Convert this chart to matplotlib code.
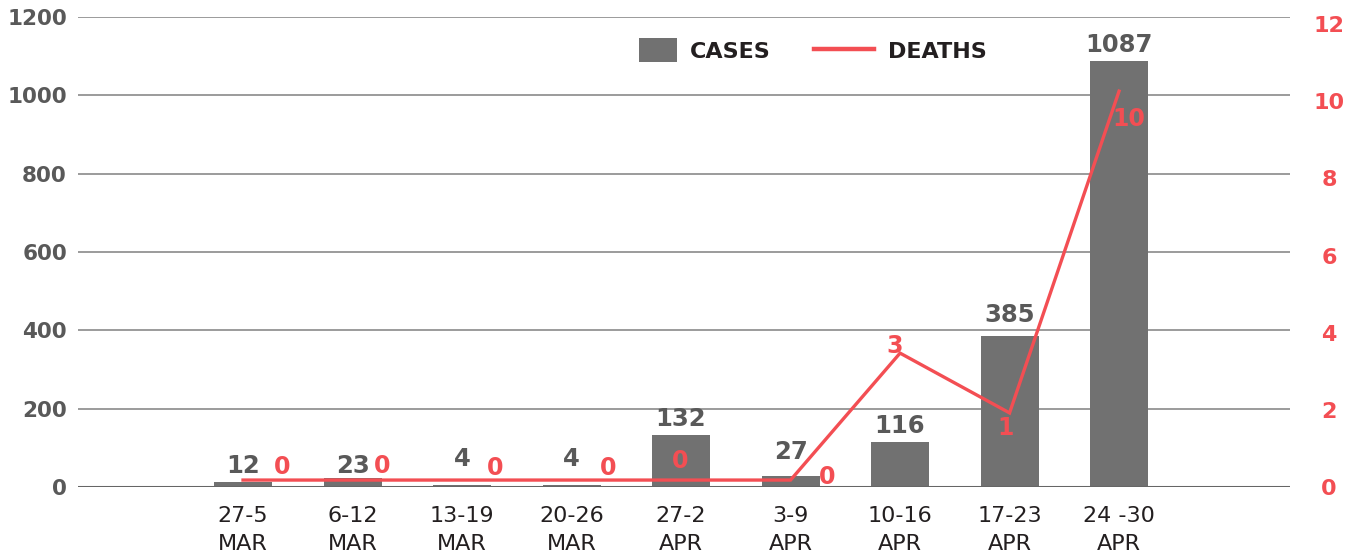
import matplotlib
matplotlib.use("Agg")
import matplotlib.pyplot as plt
from matplotlib.patches import Rectangle
from matplotlib.lines import Line2D
from matplotlib.legend_handler import HandlerPatch

# ---------------- data ----------------
categories = ["27-5\nMAR", "6-12\nMAR", "13-19\nMAR", "20-26\nMAR", "27-2\nAPR",
              "3-9\nAPR", "10-16\nAPR", "17-23\nAPR", "24 -30\nAPR"]
cases = [12, 23, 4, 4, 132, 27, 116, 385, 1087]
deaths = [0, 0, 0, 0, 0, 0, 3, 1, 10]               # labels
deaths_line = [0.18, 0.18, 0.18, 0.18, 0.18, 0.18, 3.47, 1.92, 10.26]  # line as drawn
left_ticks = [0, 200, 400, 600, 800, 1000, 1200]
right_ticks = [0, 2, 4, 6, 8, 10, 12]

# label offsets (pixels) - styling only
case_lbl_dy = [16, 12, 26, 26, 16, 24, 16, 21, 16]
death_lbl_off = [(39, 13), (30, 14), (33, 12), (37, 12), (-1, 19), (37, 3),
                 (-5, 7), (-4, -15), (10, -28)]

GRAY = "#717171"
LBL = "#595959"
RED = "#F34E53"
DARK = "#231F20"
FONT = "DejaVu Sans"

W, H = 1353, 557
fig = plt.figure(figsize=(W / 100, H / 100), dpi=100)
ax = fig.add_axes([78 / W, (H - 487) / H, 1212 / W, 470 / H])
ax2 = ax.twinx()

x = list(range(len(categories)))
ax.bar(x, cases, width=0.53, color=GRAY, zorder=3)
ax.set_ylim(0, 1200)
ax.set_xlim(-1.507, 9.561)
ax.set_yticks(left_ticks)
ax.set_yticklabels([str(t) for t in left_ticks], fontsize=15.5, fontweight="bold",
                   color=LBL, family=FONT)
ax.tick_params(axis="y", length=0, pad=8)
ax.set_xticks(x)
ax.set_xticklabels(categories, fontsize=16, color=DARK, family=FONT, linespacing=1.45)
ax.tick_params(axis="x", length=0, pad=14)
for t in left_ticks[1:]:
    ax.axhline(t, color="#808080", lw=1.1, zorder=1)
ax.axhline(0, color="#666666", lw=2.2, zorder=4)
for s in ax.spines.values():
    s.set_visible(False)
for s in ax2.spines.values():
    s.set_visible(False)

for xi, v, dy in zip(x, cases, case_lbl_dy):
    ax.annotate(str(v), (xi, v), xytext=(0, dy), textcoords="offset pixels",
                ha="center", va="center", fontsize=17.5, fontweight="bold",
                color=LBL, family=FONT, zorder=6)

ax2.plot(x, deaths_line, color=RED, lw=2.4, zorder=5, solid_joinstyle="miter")
ax2.set_ylim(0, 12 * 470 / 463)
ax2.set_yticks(right_ticks)
ax2.set_yticklabels([str(t) for t in right_ticks], fontsize=16, fontweight="bold",
                    color=RED, family=FONT, ha="center")
ax2.tick_params(axis="y", length=0, pad=28)
ax2.set_xlim(ax.get_xlim())

for xi, v, d, (dx, dy) in zip(x, deaths_line, deaths, death_lbl_off):
    ax2.annotate(str(d), (xi, v), xytext=(dx, dy), textcoords="offset pixels",
                 ha="center", va="center", fontsize=17, fontweight="bold",
                 color=RED, family=FONT, zorder=7)


class SquareHandler(HandlerPatch):
    def create_artists(self, legend, orig_handle, xdescent, ydescent, width,
                       height, fontsize, trans):
        w = width * 38 / 60
        r = Rectangle((width - w - xdescent, -ydescent - height * 0.1), w, height * 1.2,
                      facecolor=GRAY, edgecolor="none", transform=trans)
        return [r]


h_cases = Rectangle((0, 0), 1, 1, facecolor=GRAY)
h_deaths = Line2D([0], [0], color=RED, lw=3.2)
leg = fig.legend([h_cases, h_deaths], ["CASES", "DEATHS"], ncol=2, frameon=False,
                 loc="center left", bbox_to_anchor=(617 / W, 1 - 51 / H),
                 borderpad=0, borderaxespad=0, handlelength=2.7, handleheight=1.0,
                 handletextpad=0.6, columnspacing=1.95,
                 prop={"family": FONT, "weight": "bold", "size": 16},
                 handler_map={Rectangle: SquareHandler()})
for t in leg.get_texts():
    t.set_color(DARK)

fig.savefig("out.png", dpi=100)
